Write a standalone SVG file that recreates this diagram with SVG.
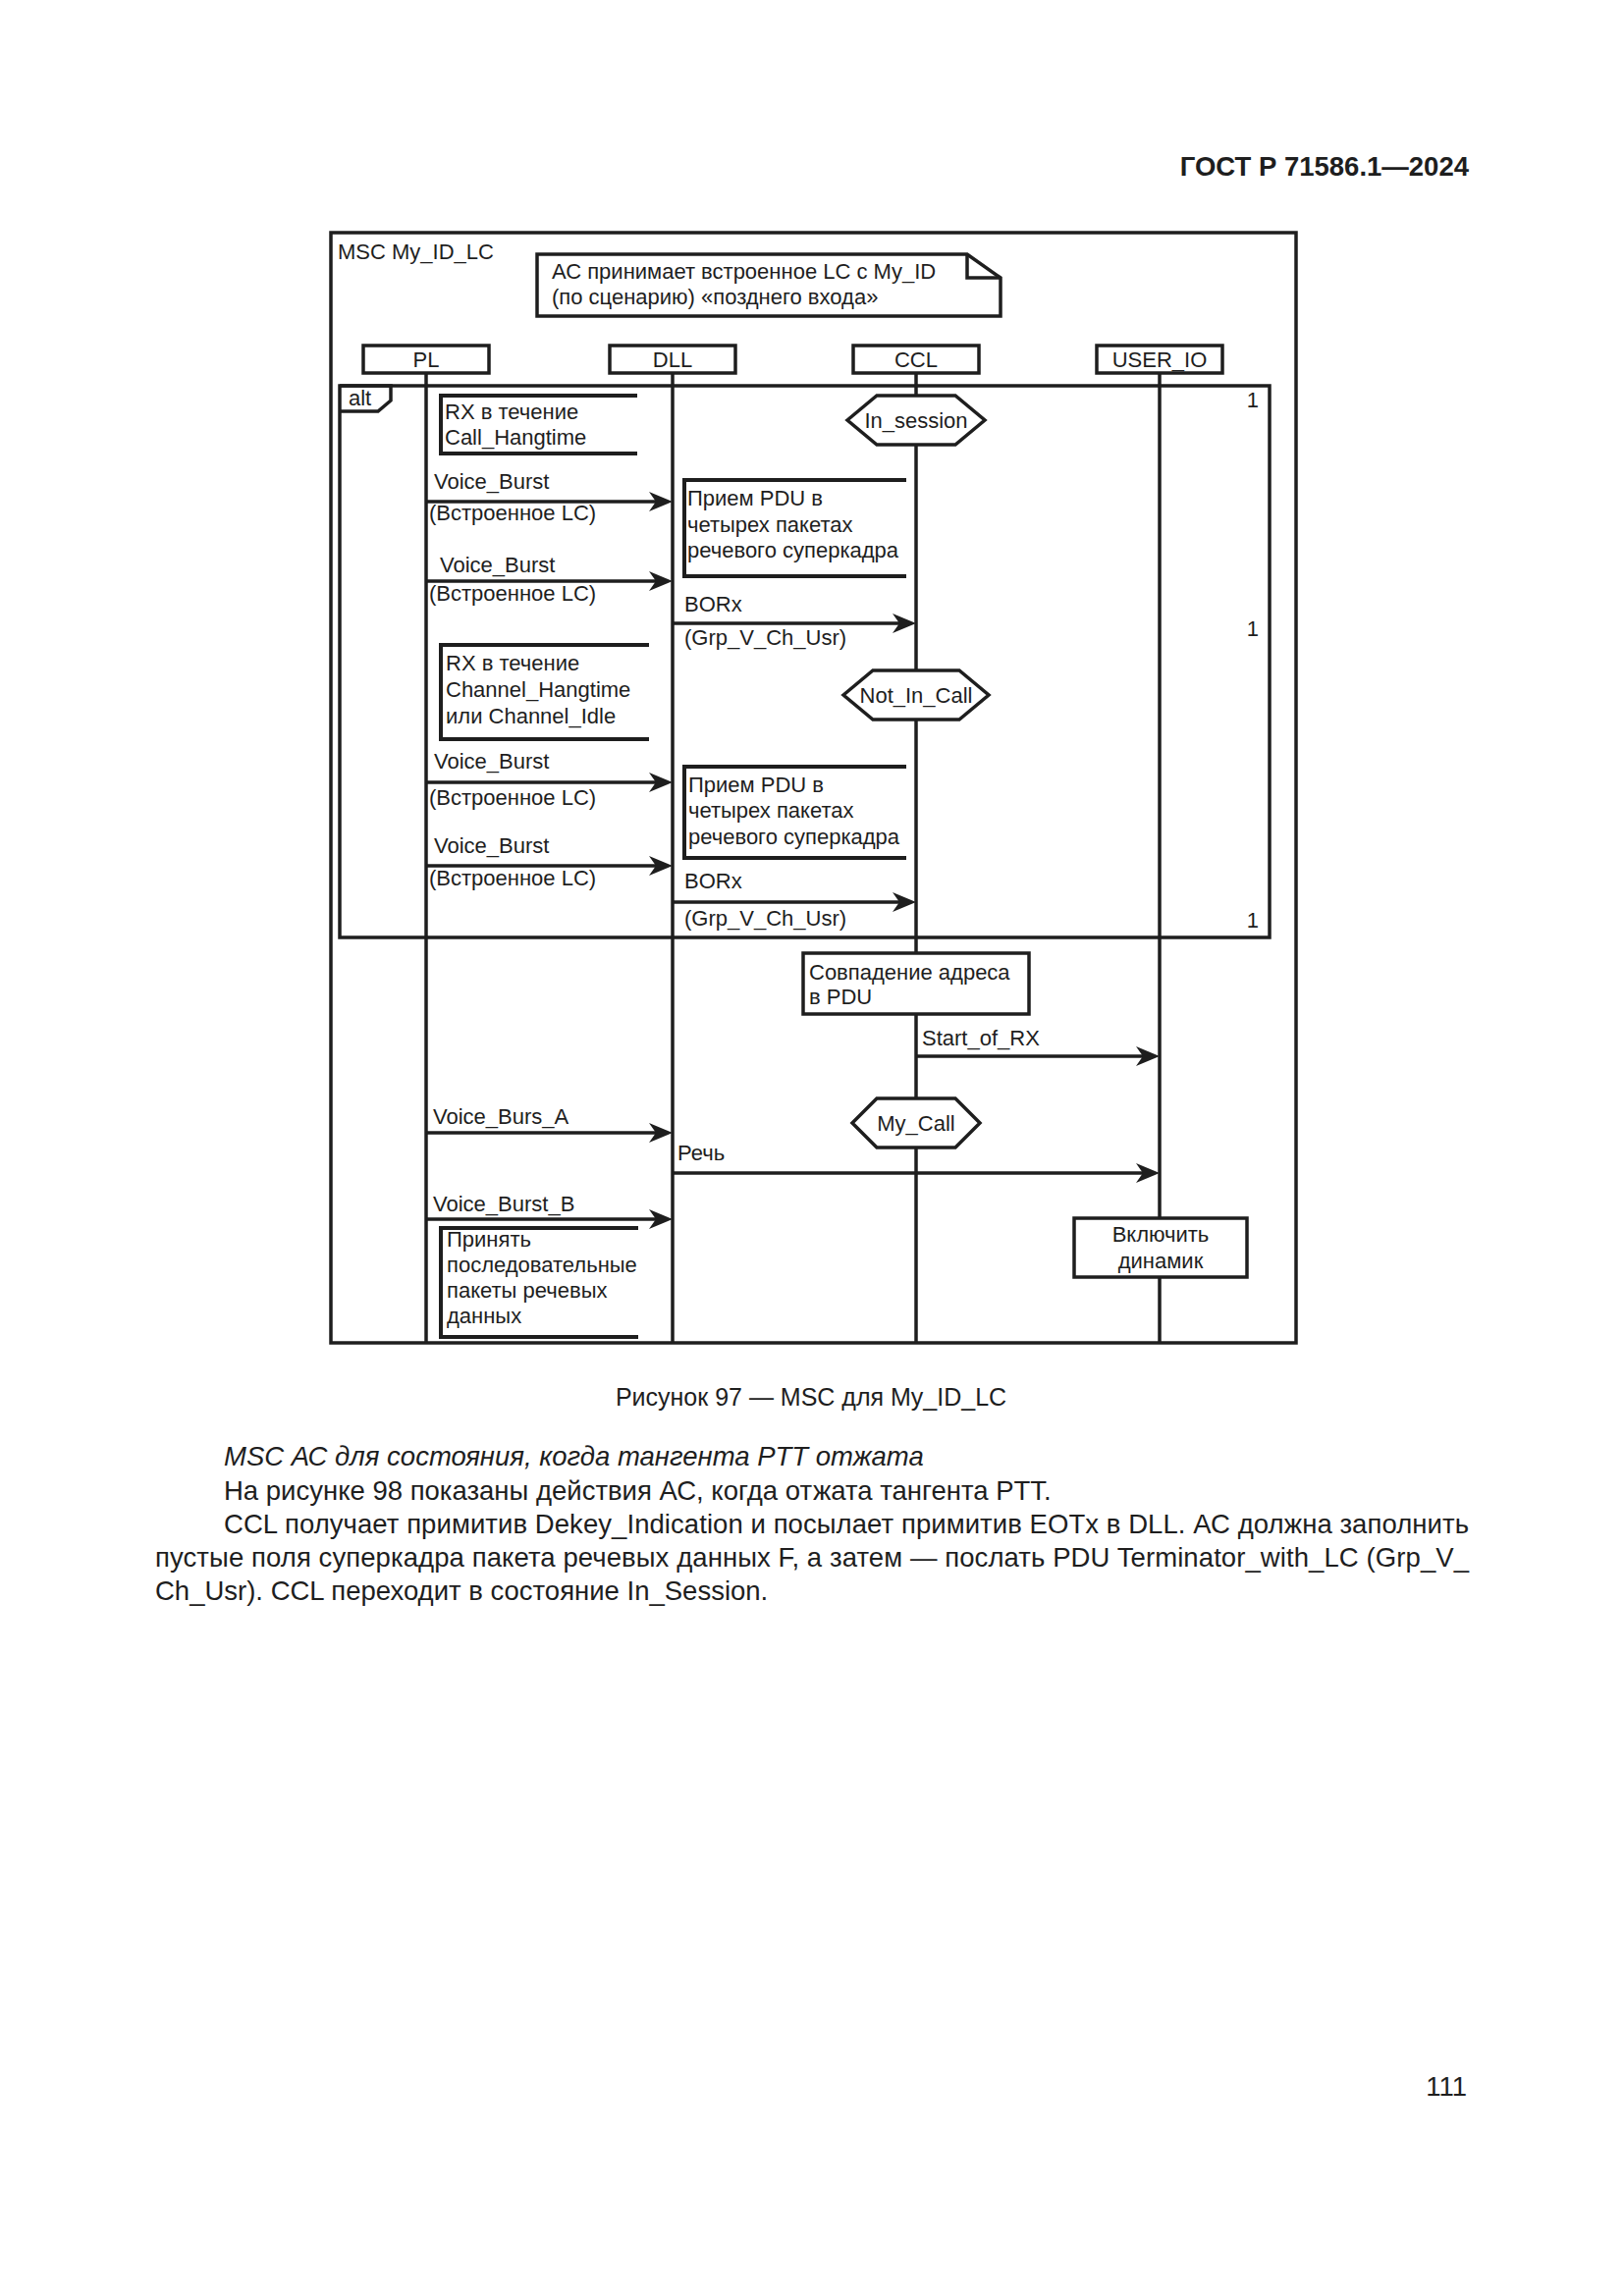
<svg xmlns="http://www.w3.org/2000/svg" width="1654" height="2339" viewBox="0 0 1654 2339">
<style>
text{font-family:"Liberation Sans",Arial,sans-serif;fill:#1e1e1e}
.d{font-size:22px}
.b{font-size:27.5px}
.ln{stroke:#1e1e1e;stroke-width:3.5;fill:none}
.box{stroke:#1e1e1e;stroke-width:3.5;fill:#fff}
.br{stroke:#1e1e1e;stroke-width:4;fill:none}
.msg{stroke:#1e1e1e;stroke-width:3.5;fill:none;marker-end:url(#ah)}
.c{text-anchor:middle}
</style>
<defs>
<marker id="ah" markerUnits="userSpaceOnUse" viewBox="-16 -11 28 22" markerWidth="28" markerHeight="22" refX="0" refY="0" orient="auto">
<path d="M10,0 L-14,-10 L-7,0 L-14,10 Z" fill="#1e1e1e"/>
</marker>
</defs>
<rect width="1654" height="2339" fill="#fff"/>

<text x="1496" y="179" text-anchor="end" style="font-size:27.5px;font-weight:bold">ГОСТ Р 71586.1—2024</text>

<g id="msc-frame">
<rect class="ln" x="337" y="237" width="983" height="1131"/>
<text class="d" x="344" y="264">MSC My_ID_LC</text>
</g>

<g id="note">
<path class="box" d="M547,259 H985 L1019,283 V322 H547 Z"/>
<path class="ln" d="M985,259 V283 H1019"/>
<text class="d" x="562" y="284">АС принимает встроенное LC с My_ID</text>
<text class="d" x="562" y="310">(по сценарию) «позднего входа»</text>
</g>

<g id="lifelines">
<line class="ln" x1="434" y1="380" x2="434" y2="1368"/>
<line class="ln" x1="685" y1="380" x2="685" y2="1368"/>
<line class="ln" x1="933" y1="380" x2="933" y2="1368"/>
<line class="ln" x1="1181" y1="380" x2="1181" y2="1368"/>
</g>

<g id="head-PL"><rect class="box" x="370" y="352" width="128" height="28"/><text class="d c" x="434" y="374">PL</text></g>
<g id="head-DLL"><rect class="box" x="621" y="352" width="128" height="28"/><text class="d c" x="685" y="374">DLL</text></g>
<g id="head-CCL"><rect class="box" x="869" y="352" width="128" height="28"/><text class="d c" x="933" y="374">CCL</text></g>
<g id="head-USER_IO"><rect class="box" x="1117" y="352" width="128" height="28"/><text class="d c" x="1181" y="374">USER_IO</text></g>

<g id="alt-frame">
<rect class="ln" x="346" y="393" width="947" height="562"/>
<path class="ln" d="M346,393 H398 V408 L385,419 H346"/>
<text class="d" x="355" y="413">alt</text>
<text class="d" x="1282" y="415" text-anchor="end">1</text>
<text class="d" x="1282" y="648" text-anchor="end">1</text>
<text class="d" x="1282" y="945" text-anchor="end">1</text>
</g>

<g id="rx-call-hangtime">
<path class="br" d="M649,403 H449 V462 H649"/>
<text class="d" x="453" y="427">RX в течение</text>
<text class="d" x="453" y="453">Call_Hangtime</text>
</g>

<g id="cond-in-session">
<polygon class="box" points="863,428 893,403 973,403 1003,428 973,453 893,453"/>
<text class="d c" x="933" y="436">In_session</text>
</g>

<g id="pdu-rx-1">
<path class="br" d="M923,489 H697 V587 H923"/>
<text class="d" x="700" y="515">Прием PDU в</text>
<text class="d" x="700" y="542">четырех пакетах</text>
<text class="d" x="700" y="568">речевого суперкадра</text>
</g>

<g id="rx-channel-hangtime">
<path class="br" d="M661,657 H449 V753 H661"/>
<text class="d" x="454" y="683">RX в течение</text>
<text class="d" x="454" y="710">Channel_Hangtime</text>
<text class="d" x="454" y="737">или Channel_Idle</text>
</g>

<g id="cond-not-in-call">
<polygon class="box" points="859,708 889,683 977,683 1007,708 977,733 889,733"/>
<text class="d c" x="933" y="716">Not_In_Call</text>
</g>

<g id="pdu-rx-2">
<path class="br" d="M923,781 H697 V874 H923"/>
<text class="d" x="701" y="807">Прием PDU в</text>
<text class="d" x="701" y="833">четырех пакетах</text>
<text class="d" x="701" y="860">речевого суперкадра</text>
</g>

<g id="addr-match">
<rect class="box" x="818" y="971" width="230" height="62"/>
<text class="d" x="824" y="998">Совпадение адреса</text>
<text class="d" x="824" y="1023">в PDU</text>
</g>

<g id="cond-my-call">
<polygon class="box" points="868,1144 893,1119 973,1119 998,1144 973,1169 893,1169"/>
<text class="d c" x="933" y="1152">My_Call</text>
</g>

<g id="accept-bursts">
<path class="br" d="M650,1251 H449 V1362 H650"/>
<text class="d" x="455" y="1270">Принять</text>
<text class="d" x="455" y="1296">последовательные</text>
<text class="d" x="455" y="1322">пакеты речевых</text>
<text class="d" x="455" y="1348">данных</text>
</g>

<g id="speaker-on">
<rect class="box" x="1094" y="1241" width="176" height="60"/>
<text class="d c" x="1182" y="1265">Включить</text>
<text class="d c" x="1182" y="1292">динамик</text>
</g>

<g id="connectors">
<line class="msg" x1="434" y1="511" x2="675" y2="511"/>
<text class="d" x="442" y="498">Voice_Burst</text>
<text class="d" x="437" y="530">(Встроенное LC)</text>

<line class="msg" x1="434" y1="592" x2="675" y2="592"/>
<text class="d" x="448" y="583">Voice_Burst</text>
<text class="d" x="437" y="612">(Встроенное LC)</text>

<line class="msg" x1="685" y1="635" x2="923" y2="635"/>
<text class="d" x="697" y="623">BORx</text>
<text class="d" x="697" y="657">(Grp_V_Ch_Usr)</text>

<line class="msg" x1="434" y1="797" x2="675" y2="797"/>
<text class="d" x="442" y="783">Voice_Burst</text>
<text class="d" x="437" y="820">(Встроенное LC)</text>

<line class="msg" x1="434" y1="882" x2="675" y2="882"/>
<text class="d" x="442" y="869">Voice_Burst</text>
<text class="d" x="437" y="902">(Встроенное LC)</text>

<line class="msg" x1="685" y1="919" x2="923" y2="919"/>
<text class="d" x="697" y="905">BORx</text>
<text class="d" x="697" y="943">(Grp_V_Ch_Usr)</text>

<line class="msg" x1="933" y1="1076" x2="1171" y2="1076"/>
<text class="d" x="939" y="1065">Start_of_RX</text>

<line class="msg" x1="434" y1="1154" x2="675" y2="1154"/>
<text class="d" x="441" y="1145">Voice_Burs_A</text>

<line class="msg" x1="685" y1="1195" x2="1171" y2="1195"/>
<text class="d" x="690" y="1182">Речь</text>

<line class="msg" x1="434" y1="1242" x2="675" y2="1242"/>
<text class="d" x="441" y="1234">Voice_Burst_B</text>
</g>

<text x="826" y="1432" text-anchor="middle" style="font-size:25px">Рисунок 97 — MSC для My_ID_LC</text>

<g id="body-text">
<text class="b" x="228" y="1493" font-style="italic">MSC АС для состояния, когда тангента PTT отжата</text>
<text class="b" x="228" y="1528">На рисунке 98 показаны действия АС, когда отжата тангента PTT.</text>
<text class="b" x="228" y="1562" textLength="1268" lengthAdjust="spacing">CCL получает примитив Dekey_Indication и посылает примитив EOTx в DLL. АС должна заполнить</text>
<text class="b" x="158" y="1596" textLength="1338" lengthAdjust="spacing">пустые поля суперкадра пакета речевых данных F, а затем — послать PDU Terminator_with_LC (Grp_V_</text>
<text class="b" x="158" y="1630">Ch_Usr). CCL переходит в состояние In_Session.</text>
</g>

<text class="b" x="1494" y="2135" text-anchor="end">111</text>
</svg>
